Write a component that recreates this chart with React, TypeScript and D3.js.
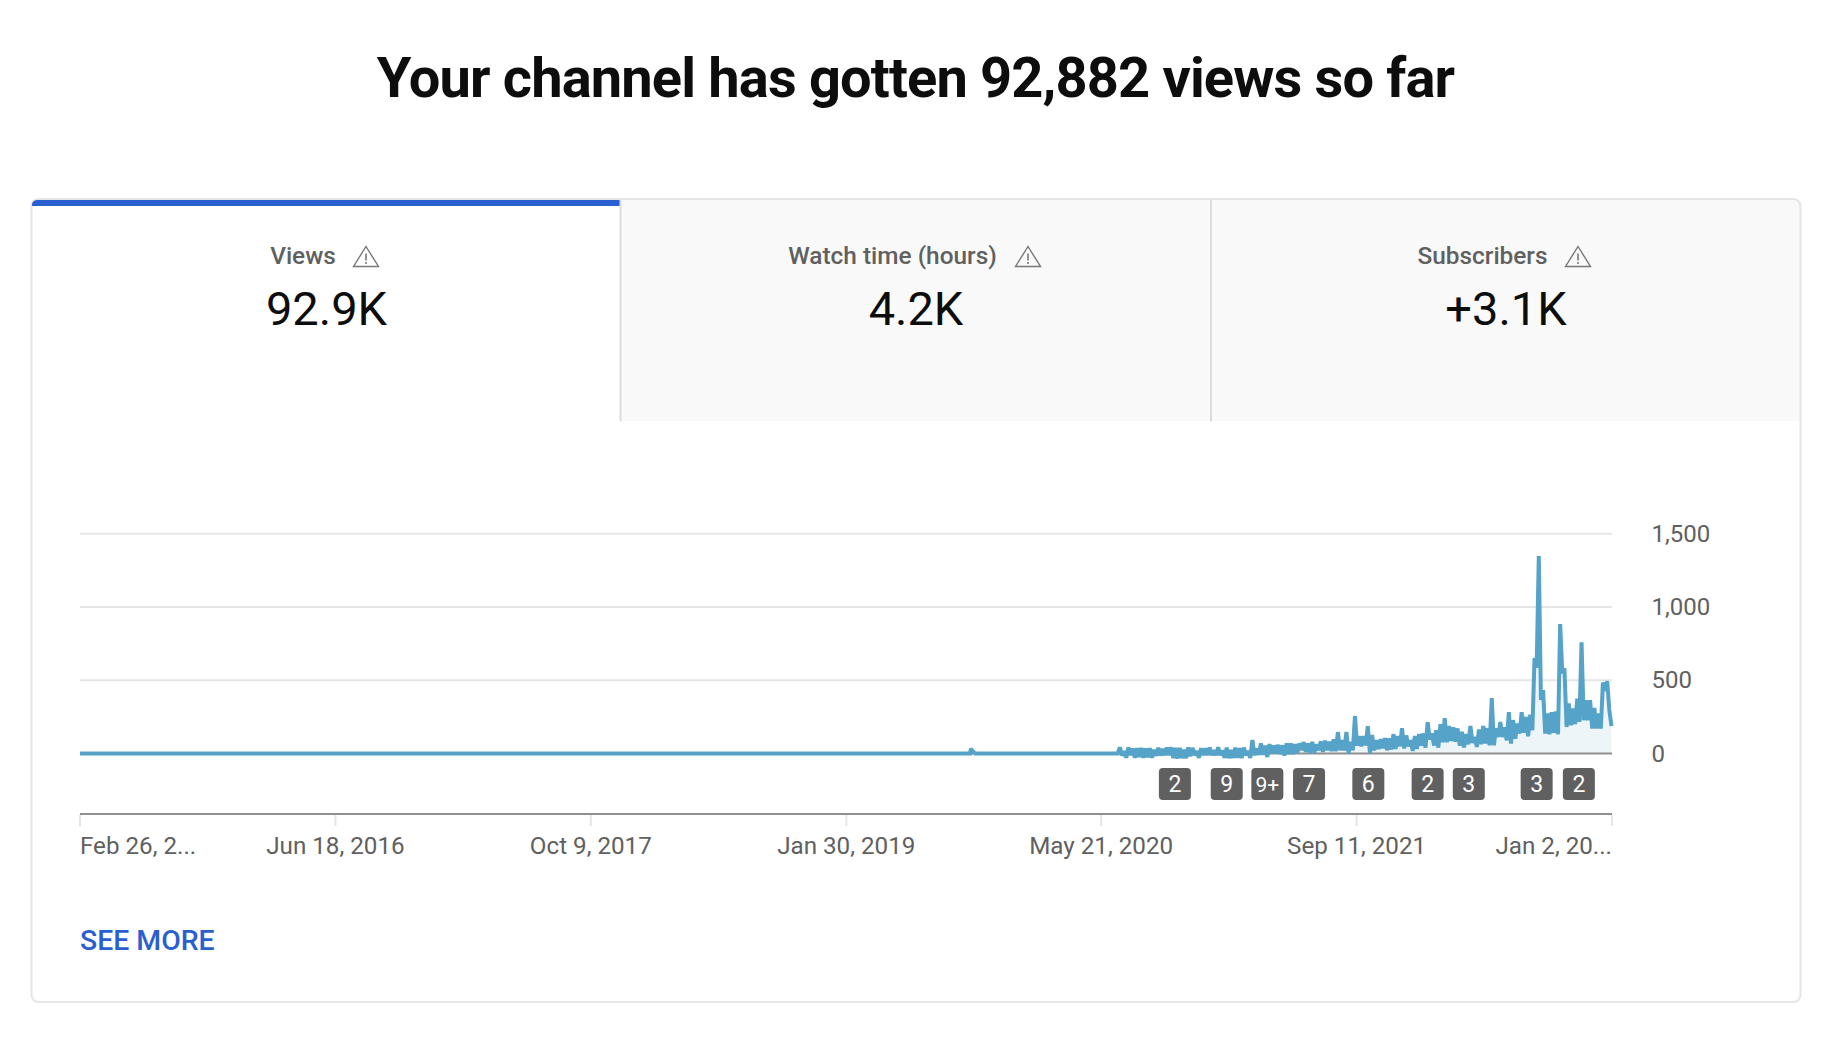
import * as d3 from "d3";

const WIDTH = 1830;
const HEIGHT = 1038;

const title = "Your channel has gotten 92,882 views so far";
const tabLabels = ["Views", "Watch time (hours)", "Subscribers"];
const tabValues = ["92.9K", "4.2K", "+3.1K"];

const yTicks = [0, 500, 1000, 1500];
const xTickDates = ["2015-02-26", "2016-06-18", "2017-10-09", "2019-01-30", "2020-05-21", "2021-09-11", "2023-01-02"];
const xTickLabels = ["Feb 26, 2...", "Jun 18, 2016", "Oct 9, 2017", "Jan 30, 2019", "May 21, 2020", "Sep 11, 2021", "Jan 2, 20..."];

// quiet years, nearly nothing but one small blip
const earlyDates = ["2015-02-26", "2019-09-19", "2019-09-20", "2019-09-28", "2020-06-21"];
const earlyViews = [0, 0, 32, 0, 0];

// from here on the line swings every few days, so read the top and bottom of the band
const bandStart = "2020-06-25";
const bandStepDays = 4;
const bandHigh = [
  42, 16, 42, 34, 36, 38, 34, 36, 26, 39,
  32, 40, 42, 38, 39, 26, 42, 38, 17, 36,
  36, 40, 22, 42, 22, 40, 24, 40, 36, 40,
  18, 92, 34, 69, 54, 64, 54, 59, 56, 69,
  69, 64, 69, 78, 69, 80, 64, 82, 87, 80,
  96, 146, 91, 146, 80, 255, 119, 119, 187, 126,
  91, 98, 105, 103, 132, 119, 173, 123, 91, 119,
  132, 137, 214, 137, 159, 200, 241, 187, 178, 171,
  148, 132, 187, 114, 164, 187, 173, 378, 173, 214,
  178, 282, 228, 205, 282, 250, 264, 652, 1348, 432,
  273, 282, 287, 884, 582, 341, 307, 375, 759, 364,
  364, 310, 273, 484, 494, 187,
];
const bandLow = [
  -14, -29, -12, -29, -24, -29, -26, -29, -16, -14,
  -12, -12, -32, -34, -32, -32, -19, -12, -30, -12,
  -12, -12, -12, -12, -30, -32, -30, -30, -32, -12,
  -30, -12, -9, -9, -24, 1, 1, -4, -14, -4,
  -4, 4, 22, 11, 4, 4, 22, 11, 22, 16,
  16, 22, 22, 0, 22, 54, 49, 56, 4, 22,
  31, 36, 22, 27, 31, 49, 34, 49, 18, 31,
  54, 40, 95, 54, 40, 77, 77, 86, 81, 54,
  41, 63, 72, 45, 63, 68, 56, 56, 113, 113,
  90, 68, 100, 136, 141, 118, 159, 586, 366, 136,
  131, 141, 131, 546, 181, 193, 200, 216, 227, 227,
  170, 170, 170, 426, 297,
];

const badgeDates = ["2020-10-06", "2021-01-11", "2021-03-28", "2021-06-14", "2021-10-03", "2022-01-22", "2022-04-09", "2022-08-14", "2022-11-01"];
const badgeLabels = ["2", "9", "9+", "7", "6", "2", "3", "3", "2"];

type Point = { date: Date; views: number };

const series: Point[] = earlyDates.map((d, i) => ({ date: new Date(d), views: earlyViews[i] }));
bandHigh.forEach((high, i) => {
  series.push({ date: d3.utcDay.offset(new Date(bandStart), i * bandStepDays * 2), views: high });
  if (i < bandLow.length) {
    series.push({ date: d3.utcDay.offset(new Date(bandStart), i * bandStepDays * 2 + bandStepDays), views: bandLow[i] });
  }
});

const FONT = "Roboto, sans-serif";
const GREY = "#606060";
const BLUE = "#2a5fd0";
const LINE = "#e5e5e5";

const x = d3.scaleUtc().domain([new Date("2015-02-26"), new Date("2023-01-02")]).range([80, 1612]);
const y = d3.scaleLinear().domain([0, 1500]).range([753.5, 533.7]);

const linePath = d3.line<Point>().x((d) => x(d.date)).y((d) => y(d.views)).curve(d3.curveLinear);
const areaPath = d3.area<Point>().x((d) => x(d.date)).y0(y(0)).y1((d) => y(d.views));

function WarnIcon({ cx, cy }: { cx: number; cy: number }) {
  return (
    <g transform={`translate(${cx},${cy})`} fill="none" stroke="#777" strokeWidth={1.4}>
      <path d="M0,-10 L12.5,10 L-12.5,10 Z" strokeLinejoin="miter" />
      <path d="M0,-3 L0,4" strokeWidth={1.6} />
      <path d="M0,5.6 L0,7.6" strokeWidth={1.6} />
    </g>
  );
}

// tabs: label centre, value centre, icon centre
const tabLabelX = [303, 892.5, 1482.5];
const tabIconX = [366, 1028, 1578];
const tabValueX = [326.5, 916, 1506];

export default function App() {
  return (
    <svg width={WIDTH} height={HEIGHT} style={{ position: "absolute", left: 0, top: 0, background: "#fff" }} fontFamily={FONT}>
      <text x={915.5} y={97} textAnchor="middle" fontSize={56} fontWeight={700} fill="#0d0d0d" letterSpacing={-0.85}>
        {title}
      </text>

      {/* card */}
      <path d="M620,200 H1795 Q1800,200 1800,205 V421 H620 Z" fill="#f9f9f9" />
      <rect x={31.5} y={199} width={1769} height={803} rx={7} fill="none" stroke={LINE} strokeWidth={2} />
      <path d="M32,206 V205 Q32,200 38,200 H620 V206 Z" fill={BLUE} />
      <line x1={620.5} x2={620.5} y1={200} y2={421.5} stroke="#dcdcdc" strokeWidth={2} />
      <line x1={1211} x2={1211} y1={200} y2={421.5} stroke="#dcdcdc" strokeWidth={2} />

      {tabLabels.map((label, i) => (
        <g key={label}>
          <text x={tabLabelX[i]} y={264} textAnchor="middle" fontSize={24.4} fontWeight={500} fill={GREY}>
            {label}
          </text>
          <WarnIcon cx={tabIconX[i]} cy={256.5} />
          <text x={tabValueX[i]} y={325} textAnchor="middle" fontSize={47} fill="#0d0d0d">
            {tabValues[i]}
          </text>
        </g>
      ))}

      {/* grid */}
      {yTicks.filter((t) => t > 0).map((t) => (
        <line key={t} x1={x.range()[0]} x2={x.range()[1]} y1={y(t)} y2={y(t)} stroke={LINE} strokeWidth={2} />
      ))}
      <path d={areaPath(series) ?? ""} fill="#eef5f9" />
      <line x1={x.range()[0]} x2={x.range()[1]} y1={y(0)} y2={y(0)} stroke="#909090" strokeWidth={2} />
      <path d={linePath(series) ?? ""} fill="none" stroke="#55a3c8" strokeWidth={4} strokeLinejoin="miter" strokeMiterlimit={2} />

      {yTicks.map((t) => (
        <text key={t} x={1651.5} y={y(t) - 0.5} dy="0.36em" fontSize={24} fill={GREY}>
          {d3.format(",")(t)}
        </text>
      ))}

      {badgeDates.map((d, i) => {
        const cx = x(new Date(d));
        return (
          <g key={d}>
            <rect x={cx - 16} y={768} width={32} height={32} rx={4} fill={GREY} />
            <text x={cx} y={784} dy="0.36em" textAnchor="middle" fontSize={badgeLabels[i].length > 1 ? 21 : 23} fill="#fff">
              {badgeLabels[i]}
            </text>
          </g>
        );
      })}

      {/* x axis */}
      <line x1={x.range()[0]} x2={x.range()[1]} y1={814} y2={814} stroke="#909090" strokeWidth={2} />
      {xTickDates.map((d, i) => {
        const tx = x(new Date(d));
        const last = xTickDates.length - 1;
        return (
          <g key={d}>
            <line x1={tx} x2={tx} y1={815} y2={826} stroke={LINE} strokeWidth={2} />
            <text
              x={tx}
              y={854}
              textAnchor={i === 0 ? "start" : i === last ? "end" : "middle"}
              fontSize={24.2}
              fill={GREY}
            >
              {xTickLabels[i]}
            </text>
          </g>
        );
      })}

      <text x={80} y={950} fontSize={28.4} fontWeight={500} fill={BLUE}>
        SEE MORE
      </text>
    </svg>
  );
}
